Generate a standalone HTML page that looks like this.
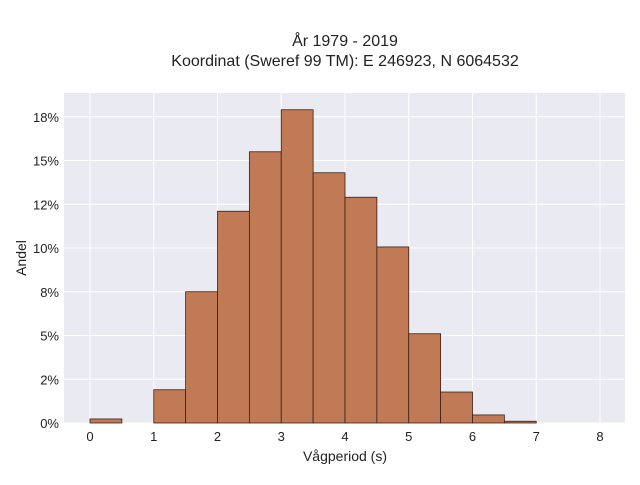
<!DOCTYPE html>
<html><head><meta charset="utf-8"><style>
body{margin:0;background:#fff;font-family:"Liberation Sans",sans-serif;}
svg text{font-family:"Liberation Sans",sans-serif;fill:#222;}
</style></head><body>
<svg width="640" height="480" xmlns="http://www.w3.org/2000/svg">
<text x="345" y="46" text-anchor="middle" font-size="16">År 1979 - 2019</text>
<text x="345" y="66" text-anchor="middle" font-size="16">Koordinat (Sweref 99 TM): E 246923, N 6064532</text>
<rect x="64" y="93" width="561" height="330" fill="#eaeaf2"/>
<g id="grid"></g>
<g id="bars"></g>
<g id="ticks"></g>
<text x="345" y="461" text-anchor="middle" font-size="14">Vågperiod (s)</text>
<text x="26" y="258" text-anchor="middle" font-size="14" transform="rotate(-90 26 258)">Andel</text>
</svg>
<script>
const binStarts=[0,1,1.5,2,2.5,3,3.5,4,4.5,5,5.5,6,6.5];
const shares=[0.23,1.9,7.5,12.1,15.5,17.9,14.3,12.9,10.06,5.1,1.77,0.46,0.1];
const xTicks=[0,1,2,3,4,5,6,7,8];
const yTicks=[0,2.5,5,7.5,10,12.5,15,17.5];
const yTickLabels=["0%","2%","5%","8%","10%","12%","15%","18%"];
const binWidth=0.5;
const NS="http://www.w3.org/2000/svg";
const xs=v=>90+v*63.75;
const ys=v=>423-v*17.5;
const grid=document.getElementById('grid'),bars=document.getElementById('bars'),ticks=document.getElementById('ticks');
function mk(tag,attrs,parent){const e=document.createElementNS(NS,tag);for(const k in attrs)e.setAttribute(k,attrs[k]);parent.appendChild(e);return e;}
xTicks.forEach(t=>{
  const l=mk('line',{x1:xs(t),x2:xs(t),y1:93,y2:423,stroke:'#fff','stroke-width':1},grid);
  
  
  const tx=mk('text',{x:xs(t),y:441,'text-anchor':'middle','font-size':13},ticks);
  tx.textContent=t;
  
  
});
yTicks.forEach((t,i)=>{
  const l=mk('line',{x1:64,x2:625,y1:ys(t),y2:ys(t),stroke:'#fff','stroke-width':1},grid);
  
  
  const tx=mk('text',{x:59,y:ys(t)+5,'text-anchor':'end','font-size':13},ticks);
  tx.textContent=yTickLabels[i];
  
  
});
binStarts.forEach((b,i)=>{
  const r=mk('rect',{x:xs(b),y:ys(shares[i]),width:xs(b+binWidth)-xs(b),height:ys(0)-ys(shares[i]),fill:'#c07a55','stroke':'#3a2015','stroke-width':0.8},bars);
  
  
});
</script>
</body></html>
